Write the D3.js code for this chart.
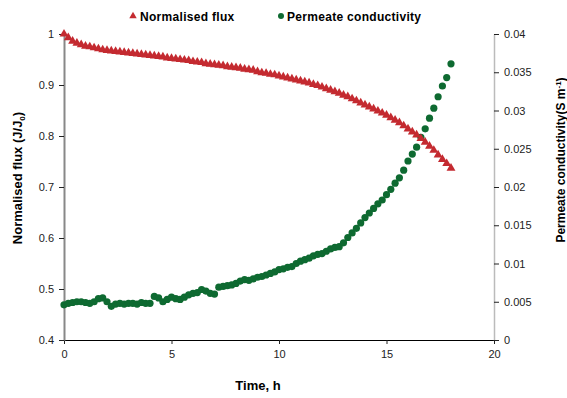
<!DOCTYPE html>
<html>
<head>
<meta charset="utf-8">
<script src="https://cdn.jsdelivr.net/npm/d3@7"></script>
<style>
  body { margin: 0; background: #fff; }
  svg { font-family: "Liberation Sans", Arial, sans-serif; }
</style>
</head>
<body>
<figure id="chart" style="margin:0"></figure>
<script>
// time, h
const times = [0, 0.2, 0.4, 0.6, 0.8, 1, 1.2, 1.4, 1.6, 1.8, 2, 2.2, 2.4, 2.6, 2.8, 3, 3.2, 3.4, 3.6, 3.8,
  4, 4.2, 4.4, 4.6, 4.8, 5, 5.2, 5.4, 5.6, 5.8, 6, 6.2, 6.4, 6.6, 6.8, 7, 7.2, 7.4, 7.6, 7.8,
  8, 8.2, 8.4, 8.6, 8.8, 9, 9.2, 9.4, 9.6, 9.8, 10, 10.2, 10.4, 10.6, 10.8, 11, 11.2, 11.4, 11.6, 11.8,
  12, 12.2, 12.4, 12.6, 12.8, 13, 13.2, 13.4, 13.6, 13.8, 14, 14.2, 14.4, 14.6, 14.8, 15, 15.2, 15.4, 15.6, 15.8,
  16, 16.2, 16.4, 16.6, 16.8, 17, 17.2, 17.4, 17.6, 17.8, 18];

const flux = [1.000, 0.993, 0.986, 0.982, 0.979, 0.976, 0.975, 0.973, 0.971, 0.969, 0.968, 0.967, 0.966, 0.965, 0.964, 0.963, 0.962, 0.961, 0.960, 0.959,
  0.958, 0.957, 0.956, 0.955, 0.953, 0.952, 0.951, 0.950, 0.949, 0.948, 0.946, 0.945, 0.944, 0.942, 0.941, 0.940, 0.939, 0.938, 0.936, 0.935,
  0.934, 0.933, 0.931, 0.930, 0.929, 0.926, 0.924, 0.923, 0.921, 0.920, 0.918, 0.916, 0.914, 0.912, 0.910, 0.908, 0.906, 0.904, 0.901,
  0.899, 0.896, 0.893, 0.890, 0.887, 0.884, 0.880, 0.877, 0.873, 0.869, 0.865, 0.861, 0.857, 0.853, 0.849, 0.845, 0.841, 0.836, 0.831, 0.826,
  0.820, 0.814, 0.808, 0.802, 0.795, 0.788, 0.780, 0.772, 0.763, 0.754, 0.746, 0.737];

const conductivity = [0.0046, 0.0048, 0.0049, 0.0050, 0.0050, 0.0049, 0.0048, 0.0050, 0.0054, 0.0055, 0.0050, 0.0044, 0.0047, 0.0048, 0.0047, 0.0048, 0.0048, 0.0047, 0.0049, 0.0048,
  0.0048, 0.0057, 0.0055, 0.0050, 0.0053, 0.0056, 0.0054, 0.0053, 0.0056, 0.0059, 0.0061, 0.0062, 0.0066, 0.0064, 0.0061, 0.0060, 0.0069, 0.0070, 0.0071, 0.0072,
  0.0074, 0.0077, 0.0079, 0.0078, 0.0080, 0.0082, 0.0083, 0.0085, 0.0087, 0.0089, 0.0092, 0.0093, 0.0095, 0.0096, 0.0100, 0.0103, 0.0105, 0.0107, 0.0110,
  0.0112, 0.0113, 0.0116, 0.0119, 0.0121, 0.0122, 0.0127, 0.0134, 0.0140, 0.0146, 0.0153, 0.0160, 0.0166, 0.0172, 0.0178, 0.0183, 0.0190, 0.0197, 0.0205, 0.0212,
  0.0222, 0.0234, 0.0243, 0.0252, 0.0265, 0.0276, 0.0290, 0.0303, 0.0318, 0.0332, 0.0343, 0.0361];

const xTicks = [0, 5, 10, 15, 20];
const leftTicks = [0.4, 0.5, 0.6, 0.7, 0.8, 0.9, 1];
const rightTicks = [0, 0.005, 0.01, 0.015, 0.02, 0.025, 0.03, 0.035, 0.04];

const width = 567, height = 398;
const plotLeft = 64, plotRight = 494, plotTop = 34, plotBottom = 340;
const red = '#c42a30', green = '#0e6a31';

const svg = d3.select('#chart').append('svg')
  .attr('width', width).attr('height', height);

const x = d3.scaleLinear().domain([0, 20]).range([plotLeft, plotRight]);
const yL = d3.scaleLinear().domain([0.4, 1]).range([plotBottom, plotTop]);
const yR = d3.scaleLinear().domain([0, 0.04]).range([plotBottom, plotTop]);

// x axis
const xAxis = svg.append('g')
  .attr('transform', `translate(0,${plotBottom})`)
  .call(d3.axisBottom(x).tickValues(xTicks).tickSize(4).tickSizeOuter(0).tickPadding(6).tickFormat(d3.format('d')));
xAxis.select('.domain').attr('stroke', '#000').attr('stroke-width', 1.2);

// left axis
const lAxis = svg.append('g')
  .attr('transform', `translate(${plotLeft},0)`)
  .call(d3.axisLeft(yL).tickValues(leftTicks).tickSize(5).tickSizeOuter(0).tickPadding(5)
    .tickFormat(d => d === 1 ? '1' : d3.format('.1f')(d)));
lAxis.select('.domain').attr('stroke', '#888').attr('stroke-width', 2);

// right axis
const rAxis = svg.append('g')
  .attr('transform', `translate(${plotRight},0)`)
  .call(d3.axisRight(yR).tickValues(rightTicks).tickSize(5).tickSizeOuter(0).tickPadding(5)
    .tickFormat(d => d === 0 ? '0' : String(+d.toFixed(3))));
rAxis.select('.domain').attr('stroke', '#bbb').attr('stroke-width', 1.5);

svg.selectAll('.tick text').attr('font-size', 11).attr('fill', '#222')
  .attr('font-family', '"Liberation Sans", Arial, sans-serif');
svg.selectAll('.tick line').attr('stroke', '#222');

// axis titles
svg.append('text')
  .attr('x', 258).attr('y', 390)
  .attr('text-anchor', 'middle').attr('font-size', 13).attr('font-weight', 'bold')
  .text('Time, h');

const lt = svg.append('text')
  .attr('transform', `translate(22,178) rotate(-90)`)
  .attr('text-anchor', 'middle').attr('font-size', 13).attr('font-weight', 'bold');
lt.append('tspan').text('Normalised flux (J/J');
lt.append('tspan').attr('font-size', 8).attr('dy', 3).text('0');
lt.append('tspan').attr('dy', -3).text(')');

const rt = svg.append('text')
  .attr('transform', `translate(565,160) rotate(-90)`)
  .attr('text-anchor', 'middle').attr('font-size', 12).attr('font-weight', 'bold');
rt.append('tspan').text('Permeate conductivity(S m');
rt.append('tspan').attr('font-size', 8).attr('dy', -4).text('-1');
rt.append('tspan').attr('dy', 4).text(')');

// conductivity points
svg.append('g').selectAll('circle')
  .data(times)
  .join('circle')
  .attr('cx', d => x(d))
  .attr('cy', (d, i) => yR(conductivity[i]))
  .attr('r', 3.6)
  .attr('fill', green);

// flux points
const tri = d3.symbol().type(d3.symbolTriangle).size(34);
svg.append('g').selectAll('path')
  .data(times)
  .join('path')
  .attr('d', tri)
  .attr('transform', (d, i) => `translate(${x(d)},${yL(flux[i])})`)
  .attr('fill', red);

// legend
const legend = svg.append('g').attr('font-size', 12).attr('font-weight', 'bold').attr('letter-spacing', 0.3);
legend.append('path').attr('d', d3.symbol().type(d3.symbolTriangle).size(24))
  .attr('transform', 'translate(133,16)').attr('fill', red);
legend.append('text').attr('x', 140).attr('y', 21).text('Normalised flux');
legend.append('circle').attr('cx', 281).attr('cy', 16).attr('r', 3).attr('fill', green);
legend.append('text').attr('x', 287).attr('y', 21).text('Permeate conductivity');
</script>
</body>
</html>
